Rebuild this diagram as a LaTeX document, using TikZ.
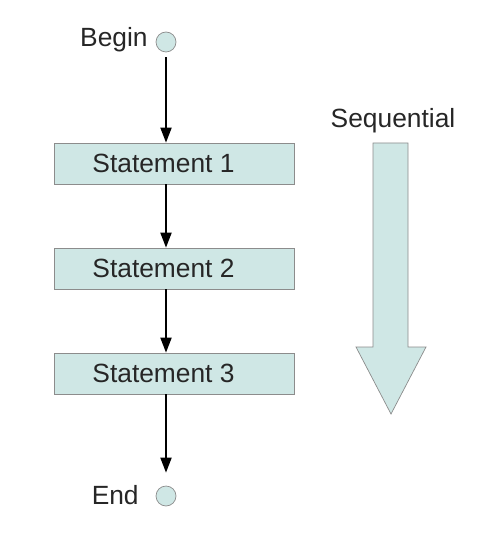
\documentclass[tikz,border=0pt]{standalone}
\usepackage{fontspec}
\setmainfont{Liberation Sans}
\usepackage{tikz}
\usetikzlibrary{arrows.meta}

\definecolor{boxfill}{RGB}{207,231,229}
\definecolor{boxline}{RGB}{140,140,140}

\tikzset{
  stmt/.style={draw=boxline, fill=boxfill, minimum width=4.8cm, minimum height=0.82cm, inner sep=0pt},
  term/.style={circle, draw=boxline, fill=boxfill, minimum size=0.4cm, inner sep=0pt},
  flow/.style={line width=1.1pt, -{Triangle[length=0.3cm,width=0.22cm]}},
  lbl/.style={font=\fontsize{15}{18}\selectfont, text=black!85, inner sep=0pt}
}

\begin{document}
\begin{tikzpicture}[x=0.02cm, y=-0.02cm]
\useasboundingbox (0,0) rectangle (494,550);

% terminals
\node (begin) [term] at (166,42) {};
\node (beginlbl) [lbl, anchor=east] at (148,40) {Begin};
\node (end) [term] at (166,496) {};
\node (endlbl) [lbl, anchor=east] at (139,495) {End};

% statements (text sits a bit left of centre)
\node (s1) [stmt, label={[lbl, xshift=-0.21cm]center:Statement 1}] at (174,163.5) {};
\node (s2) [stmt, label={[lbl, xshift=-0.21cm]center:Statement 2}] at (174,268.5) {};
\node (s3) [stmt, label={[lbl, xshift=-0.21cm]center:Statement 3}] at (174,373.5) {};

% flow arrows
\draw[flow, shorten <=0.1cm] (begin.south) -- (begin |- s1.north);
\draw[flow] (s1.south -| begin) -- (begin |- s2.north);
\draw[flow] (s2.south -| begin) -- (begin |- s3.north);
\draw[flow, shorten >=0.26cm] (s3.south -| begin) -- (end.north);

% sequential arrow
\node (seqlbl) [lbl] at (393,121) {Sequential};
\draw[draw=boxline, fill=boxfill] (373,143) -- (408,143) -- (408,347) -- (426,347) -- (391,414) -- (356,347) -- (373,347) -- cycle;

\end{tikzpicture}
\end{document}
